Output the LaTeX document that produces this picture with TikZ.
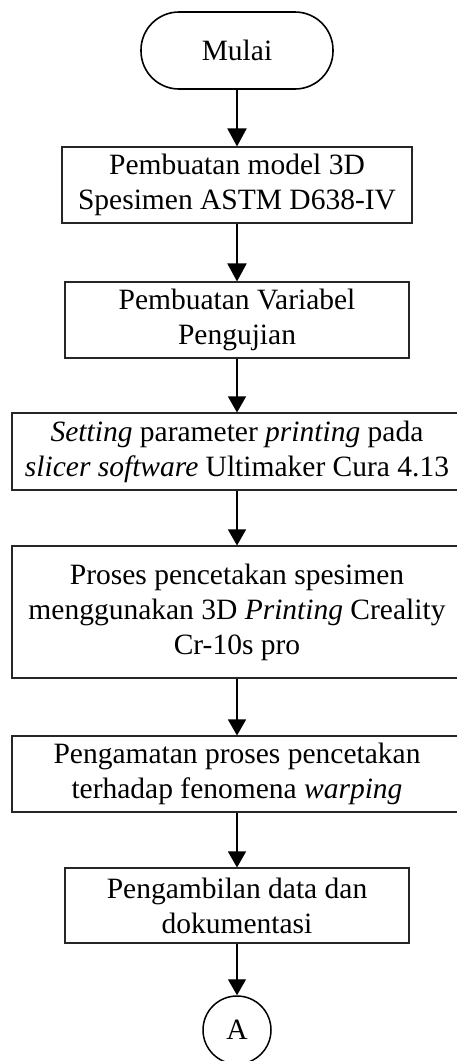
\documentclass[tikz,border=0pt]{standalone}
\usepackage{fontspec}
\setmainfont{Liberation Serif}
\usetikzlibrary{arrows.meta,positioning}

\tikzset{
  proc/.style={draw=black!85, line width=1.1pt, rectangle, inner sep=0pt,
    align=center, font=\fontsize{29.5}{35}\selectfont},
  term/.style={draw=black, line width=1.6pt, rectangle, rounded corners=38pt,
    minimum width=192pt, minimum height=77pt, inner sep=0pt,
    font=\fontsize{29.5}{35}\selectfont},
  conn/.style={draw=black, line width=1.5pt, circle, minimum size=68pt,
    inner sep=0pt, font=\fontsize{29.5}{35}\selectfont},
  flowthick/.style={line width=2pt, -{Triangle[width=19pt,length=18pt]}},
  flowthin/.style={line width=1.2pt, -{Triangle[width=18pt,length=16pt]}},
}

\begin{document}
\begin{tikzpicture}[x=1pt, y=-1pt]
  \useasboundingbox (0,0) rectangle (456,1061);

  \node[term] (mulai) at (237,50.5) {Mulai};

  \node[proc, minimum width=350pt, minimum height=76pt] (model) at (237,185)
    {Pembuatan model 3D\\Spesimen ASTM D638-IV};

  \node[proc, minimum width=344pt, minimum height=76pt] (variabel) at (237,320)
    {Pembuatan Variabel\\Pengujian};

  \node[proc, minimum width=450pt, minimum height=77pt] (setting) at (237,451.5)
    {\textit{Setting} parameter \textit{printing} pada\\
     \textit{slicer software} Ultimaker Cura 4.13};

  \node[proc, minimum width=450pt, minimum height=132pt] (cetak) at (237,612)
    {Proses pencetakan spesimen\\
     menggunakan 3D \textit{Printing} Creality\\
     Cr-10s pro};

  \node[proc, minimum width=450pt, minimum height=76pt] (amat) at (237,774)
    {Pengamatan proses pencetakan\\terhadap fenomena \textit{warping}};

  \node[proc, minimum width=344pt, minimum height=75pt] (data) at (237,905.5)
    {Pengambilan data dan\\dokumentasi};

  \node[conn] (A) at (237,1030) {A};

  \draw[flowthick] (mulai.south) -- (model.north);
  \draw[flowthick] (model.south) -- (variabel.north);
  \draw[flowthin] (variabel.south) -- (setting.north);
  \draw[flowthin] (setting.south) -- (cetak.north);
  \draw[flowthin] (cetak.south) -- (amat.north);
  \draw[flowthin] (amat.south) -- (data.north);
  \draw[flowthin] (data.south) -- (A.north);
\end{tikzpicture}
\end{document}
